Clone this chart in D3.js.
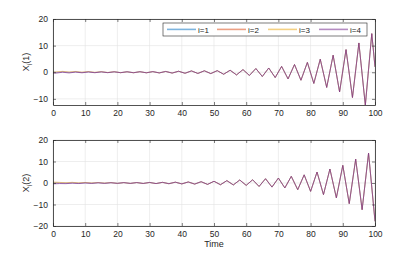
<!DOCTYPE html>
<html>
<head>
<meta charset="utf-8">
<script src="https://cdn.jsdelivr.net/npm/d3@7"></script>
<style>
  body { margin: 0; background: #fff; }
  svg { font-family: "Liberation Sans", Arial, sans-serif; }
</style>
</head>
<body>
<div id="chart"></div>
<script>
// agent names and colours
var agents = ["i=1", "i=2", "i=3", "i=4"];
var colors = ["#0072BD", "#D95319", "#EDB120", "#7E2F8E"];
var legendColors = ["#7db4de", "#eca084", "#f4d184", "#b58cc2"];
var opac = [0.4, 0.4, 0.4, 0.9];

// component 1: vertices at t = 0,1,3,...,19 differ per agent, then shared from 21 on
var head1 = [
  [0.30, -0.05, 0.20, -0.05, 0.18, -0.08, 0.17, -0.10, 0.17, -0.13, 0.17],
  [-0.35, 0.10, 0.30, 0.05, 0.28, 0.00, 0.25, -0.05, 0.22, -0.10, 0.20],
  [0.45, 0.15, 0.35, 0.10, 0.30, 0.02, 0.26, -0.04, 0.22, -0.10, 0.20],
  [-0.20, -0.30, 0.00, -0.25, 0.05, -0.20, 0.10, -0.18, 0.14, -0.16, 0.16]
];
var tail1 = [-0.16, 0.18, -0.18, 0.20, -0.20, 0.24, -0.25, 0.30, -0.30, 0.38,
  -0.38, 0.50, -0.45, 0.55, -0.50, 0.60, -0.75, 0.75, -1.0, 1.0,
  -1.2, 1.4, -1.6, 1.6, -2.0, 2.2, -2.5, 2.9, -3.0, 3.7,
  -4.2, 4.9, -5.7, 6.4, -7.4, 8.5, -9.5, 11.0, -12.4, 14.5, 2.0];
var time1 = [0].concat(d3.range(1, 100, 2), [100]);

// component 2: vertices at t = 0,2,...,18 differ per agent, then shared from 20 on
var head2 = [
  [0.25, 0.05, -0.05, 0.10, -0.08, 0.12, -0.10, 0.14, -0.12, 0.15],
  [0.40, 0.30, 0.10, 0.30, 0.05, 0.25, 0.00, 0.22, -0.05, 0.20],
  [0.35, 0.25, 0.15, 0.28, 0.08, 0.24, 0.02, 0.20, -0.05, 0.18],
  [-0.40, -0.25, -0.30, -0.10, -0.25, 0.00, -0.20, 0.08, -0.18, 0.12]
];
var tail2 = [-0.17, 0.18, -0.19, 0.20, -0.22, 0.25, -0.27, 0.30, -0.33, 0.38,
  -0.42, 0.48, -0.50, 0.60, -0.65, 0.80, -0.80, 1.1, -0.90, 1.4,
  -1.1, 1.5, -1.6, 2.0, -1.9, 2.3, -2.3, 3.1, -3.1, 3.8,
  -3.9, 5.1, -5.4, 6.5, -6.9, 8.2, -9.6, 11.1, -12.4, 13.9, -17.8];
var time2 = d3.range(0, 101, 2);

var xTicks = [0, 10, 20, 30, 40, 50, 60, 70, 80, 90, 100];

var W = 415, H = 255;
var svg = d3.select("#chart").append("svg").attr("width", W).attr("height", H);

var x = d3.scaleLinear().domain([0, 100]).range([53, 375]);

var panels = [
  { top: 19, bottom: 105, domain: [-12.3, 20], ticks: [-10, 0, 10, 20], label: "(1)",
    time: time1, series: head1.map(function(h) { return h.concat(tail1); }) },
  { top: 140, bottom: 226, domain: [-20, 20], ticks: [-20, -10, 0, 10, 20], label: "(2)",
    time: time2, series: head2.map(function(h) { return h.concat(tail2); }) }
];

panels.forEach(function(p, pi) {
  var y = d3.scaleLinear().domain(p.domain).range([p.bottom, p.top]);
  var g = svg.append("g");

  // grid
  g.selectAll(".gx").data(xTicks).enter().append("line")
    .attr("x1", function(d) { return x(d); }).attr("x2", function(d) { return x(d); })
    .attr("y1", p.top).attr("y2", p.bottom)
    .attr("stroke", "#e3e3e3").attr("stroke-width", 0.6);
  g.selectAll(".gy").data(p.ticks).enter().append("line")
    .attr("x1", x(0)).attr("x2", x(100))
    .attr("y1", function(d) { return y(d); }).attr("y2", function(d) { return y(d); })
    .attr("stroke", "#e3e3e3").attr("stroke-width", 0.6);

  // lines
  var line = d3.line()
    .x(function(d, i) { return x(p.time[i]); })
    .y(function(d) { return y(d); });
  var clipId = "clip" + pi;
  svg.append("clipPath").attr("id", clipId).append("rect")
    .attr("x", x(0)).attr("y", p.top).attr("width", x(100) - x(0)).attr("height", p.bottom - p.top);
  g.append("g").attr("clip-path", "url(#" + clipId + ")")
    .selectAll("path").data(p.series).enter().append("path")
    .attr("d", line)
    .attr("fill", "none")
    .attr("stroke", function(d, i) { return colors[i]; })
    .attr("stroke-opacity", function(d, i) { return opac[i]; })
    .attr("stroke-width", 0.8);

  // axes (MATLAB-like box, ticks inward)
  var bottomAxis = d3.axisBottom(x).tickValues(xTicks).tickSizeInner(-3).tickSizeOuter(0).tickPadding(5);
  var topAxis = d3.axisTop(x).tickValues(xTicks).tickSizeInner(-3).tickSizeOuter(0).tickFormat("");
  var leftAxis = d3.axisLeft(y).tickValues(p.ticks).tickSizeInner(-3).tickSizeOuter(0).tickPadding(5);
  var rightAxis = d3.axisRight(y).tickValues(p.ticks).tickSizeInner(-3).tickSizeOuter(0).tickFormat("");

  [[bottomAxis, "translate(0," + p.bottom + ")"], [topAxis, "translate(0," + p.top + ")"],
   [leftAxis, "translate(" + x(0) + ",0)"], [rightAxis, "translate(" + x(100) + ",0)"]].forEach(function(a) {
    var ax = g.append("g").attr("transform", a[1]).call(a[0]);
    ax.selectAll("path.domain").attr("stroke", "#262626").attr("stroke-width", 0.8);
    ax.selectAll(".tick line").attr("stroke", "#262626").attr("stroke-width", 0.6);
    ax.selectAll("text").attr("fill", "#262626").style("font-size", "8.5px")
      .style("font-family", "'Liberation Sans', Arial, sans-serif");
  });

  // y label
  var cy = (p.top + p.bottom) / 2;
  var yl = g.append("text")
    .attr("transform", "translate(29," + cy + ") rotate(-90)")
    .attr("text-anchor", "middle")
    .attr("fill", "#262626")
    .style("font-size", "9px");
  yl.append("tspan").text("X");
  yl.append("tspan").attr("dy", 2.5).style("font-size", "7px").text("i");
  yl.append("tspan").attr("dy", -2.5).text(p.label);
});

// x label
svg.append("text").attr("x", x(50)).attr("y", 247)
  .attr("text-anchor", "middle").attr("fill", "#262626")
  .style("font-size", "9px").text("Time");

// legend
var lg = svg.append("g");
lg.append("rect").attr("x", 163).attr("y", 23).attr("width", 204).attr("height", 13)
  .attr("fill", "#fff").attr("stroke", "#262626").attr("stroke-width", 0.6);
var legX = [167, 217, 268, 319];
agents.forEach(function(a, i) {
  lg.append("rect").attr("x", legX[i]).attr("y", 28.6).attr("width", 29).attr("height", 1.6)
    .attr("fill", legendColors[i]);
  lg.append("text").attr("x", legX[i] + 31).attr("y", 32.5)
    .attr("fill", "#262626").style("font-size", "8px").text(a);
});
</script>
</body>
</html>
